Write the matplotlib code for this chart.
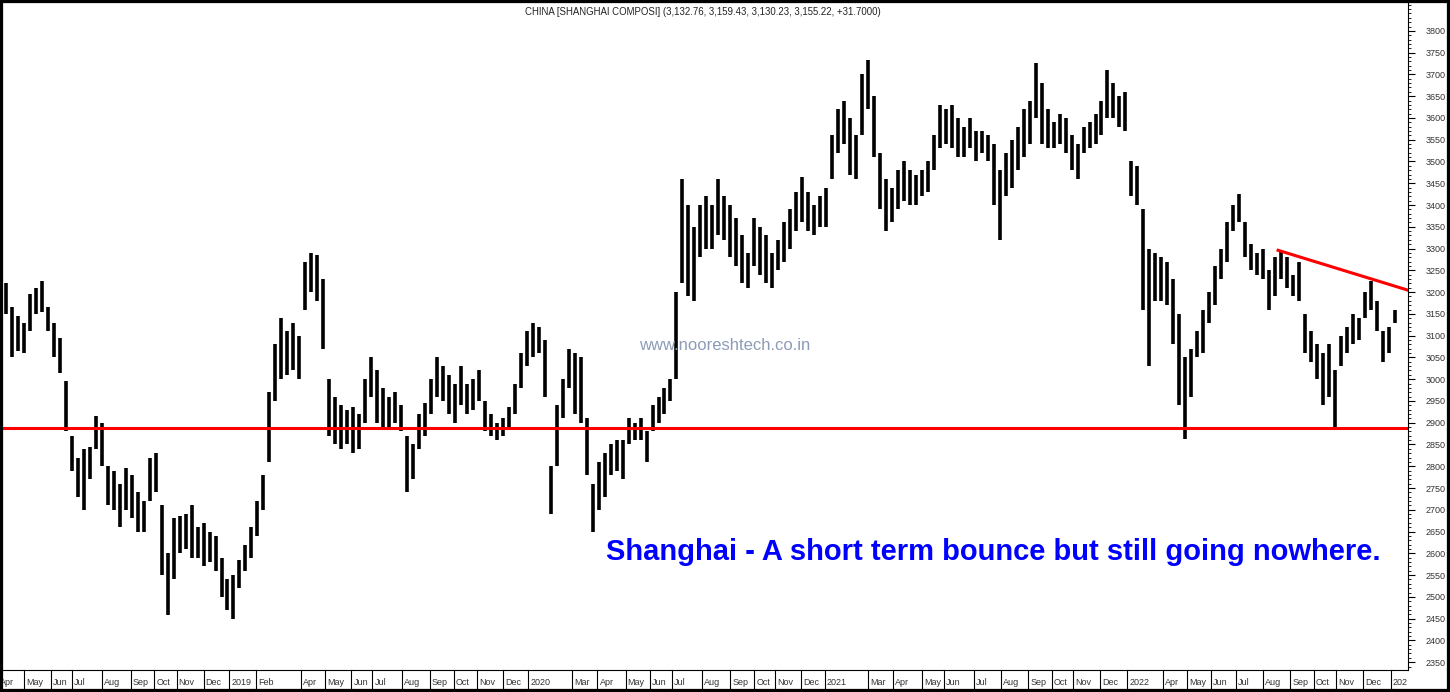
import matplotlib.pyplot as plt
from matplotlib.patches import Rectangle
import numpy as np

plt.rcParams['font.family'] = ['Liberation Sans', 'DejaVu Sans']

# weekly high / low of the Shanghai Composite, Apr 2018 - Jan 2023
high = [3220, 3165, 3145, 3130, 3195, 3210, 3225, 3165, 3130, 3095,
        2995, 2870, 2820, 2840, 2845, 2915, 2900, 2800, 2790, 2760,
        2795, 2780, 2740, 2720, 2820, 2830, 2710, 2600, 2680, 2685,
        2690, 2710, 2660, 2670, 2650, 2640, 2590, 2540, 2550, 2585,
        2620, 2660, 2720, 2780, 2970, 3080, 3140, 3110, 3130, 3100,
        3270, 3290, 3285, 3230, 3000, 2960, 2940, 2930, 2935, 2920,
        3000, 3050, 3020, 2980, 2960, 2970, 2940, 2870, 2850, 2920,
        2945, 3000, 3050, 3030, 3010, 2990, 3030, 2990, 3000, 3020,
        2950, 2920, 2900, 2910, 2935, 2990, 3060, 3110, 3130, 3120,
        3090, 2800, 2940, 3000, 3070, 3060, 3050, 2910, 2760, 2810,
        2830, 2850, 2860, 2860, 2910, 2900, 2910, 2880, 2940, 2960,
        2980, 3000, 3200, 3460, 3400, 3350, 3400, 3420, 3400, 3460,
        3420, 3400, 3370, 3330, 3290, 3370, 3350, 3330, 3290, 3320,
        3360, 3390, 3430, 3465, 3430, 3400, 3420, 3440, 3560, 3620,
        3640, 3600, 3560, 3700, 3733, 3650, 3520, 3460, 3440, 3480,
        3500, 3480, 3470, 3480, 3500, 3560, 3630, 3620, 3630, 3600,
        3580, 3600, 3570, 3570, 3560, 3540, 3480, 3520, 3550, 3580,
        3620, 3640, 3726, 3680, 3620, 3590, 3610, 3600, 3560, 3540,
        3580, 3590, 3610, 3640, 3710, 3680, 3650, 3660, 3500, 3490,
        3390, 3300, 3290, 3280, 3270, 3230, 3150, 3050, 3070, 3110,
        3160, 3200, 3260, 3300, 3360, 3400, 3425, 3360, 3310, 3290,
        3300, 3250, 3280, 3295, 3280, 3240, 3270, 3150, 3110, 3080,
        3060, 3080, 3020, 3100, 3120, 3150, 3140, 3200, 3226, 3180,
        3110, 3120, 3159]
low = [3150, 3050, 3065, 3060, 3110, 3150, 3155, 3110, 3050, 3015,
       2880, 2790, 2730, 2700, 2770, 2840, 2800, 2710, 2700, 2660,
       2700, 2680, 2650, 2650, 2720, 2740, 2550, 2458, 2540, 2600,
       2610, 2590, 2590, 2570, 2580, 2560, 2500, 2470, 2450, 2520,
       2560, 2590, 2640, 2700, 2810, 2950, 3000, 3010, 3020, 3000,
       3160, 3200, 3180, 3070, 2870, 2850, 2840, 2850, 2830, 2840,
       2900, 2960, 2900, 2890, 2890, 2900, 2880, 2740, 2770, 2840,
       2870, 2920, 2960, 2950, 2920, 2900, 2940, 2920, 2930, 2950,
       2880, 2870, 2860, 2870, 2890, 2920, 2980, 3030, 3050, 3060,
       2960, 2690, 2800, 2910, 2980, 2920, 2900, 2780, 2650, 2700,
       2730, 2780, 2790, 2770, 2850, 2860, 2860, 2810, 2880, 2900,
       2920, 2950, 3000, 3220, 3190, 3180, 3280, 3300, 3300, 3330,
       3320, 3280, 3260, 3220, 3210, 3260, 3240, 3220, 3210, 3250,
       3270, 3300, 3340, 3360, 3340, 3330, 3350, 3350, 3460, 3520,
       3540, 3470, 3460, 3560, 3620, 3510, 3390, 3340, 3360, 3390,
       3410, 3400, 3400, 3420, 3430, 3480, 3530, 3540, 3530, 3510,
       3510, 3530, 3500, 3520, 3500, 3400, 3320, 3420, 3440, 3480,
       3510, 3540, 3600, 3540, 3530, 3530, 3540, 3520, 3480, 3460,
       3520, 3530, 3540, 3560, 3600, 3600, 3580, 3570, 3420, 3400,
       3160, 3030, 3180, 3180, 3170, 3080, 2940, 2863, 2960, 3050,
       3060, 3130, 3170, 3230, 3270, 3340, 3360, 3280, 3250, 3240,
       3230, 3160, 3190, 3230, 3210, 3190, 3180, 3060, 3040, 3000,
       2940, 2960, 2886, 3030, 3060, 3080, 3090, 3140, 3160, 3110,
       3040, 3060, 3130]

month_labels = ['Apr', 'May', 'Jun', 'Jul', 'Aug', 'Sep', 'Oct', 'Nov', 'Dec', '2019', 'Feb',
                'Apr', 'May', 'Jun', 'Jul', 'Aug', 'Sep', 'Oct', 'Nov', 'Dec', '2020',
                'Mar', 'Apr', 'May', 'Jun', 'Jul', 'Aug', 'Sep', 'Oct', 'Nov', 'Dec', '2021',
                'Mar', 'Apr', 'May', 'Jun', 'Jul', 'Aug', 'Sep', 'Oct', 'Nov', 'Dec', '2022',
                'Apr', 'May', 'Jun', 'Jul', 'Aug', 'Sep', 'Oct', 'Nov', 'Dec', '202']
month_week = [-1.3, 3.0, 7.5, 11.0, 16.0, 20.8, 24.8, 28.5, 33.0, 37.3, 41.8,
              49.2, 53.3, 57.7, 61.2, 66.2, 70.8, 74.8, 78.7, 83.0, 87.2,
              94.5, 98.8, 103.5, 107.5, 111.2, 116.2, 121.0, 125.0, 128.5, 132.8, 136.8,
              144.0, 148.2, 153.0, 156.7, 161.7, 166.2, 170.8, 174.7, 178.2, 182.7, 187.3,
              193.2, 197.3, 201.3, 205.5, 210.0, 214.5, 218.5, 222.2, 226.7, 231.3]

support = 2887
trend_weeks = [212.5, 235.0]
trend_levels = [3296, 3201]

fig = plt.figure(figsize=(14.5, 6.92), dpi=100)
ax = fig.add_axes([3 / 1450, 22 / 692, 1405 / 1450, 667 / 692])

weeks = np.arange(len(high))
ax.vlines(weeks, low, high, color='black', lw=2.6)

ax.axhline(support, color='#ff0000', lw=2.2)
ax.plot(trend_weeks, trend_levels, color='#ff0000', lw=2.2)

ax.set_xlim(-0.5, 234.2)
ax.set_ylim(2332, 3864)

# right price scale
ax.yaxis.tick_right()
ax.set_yticks(np.arange(2350, 3801, 50))
ax.set_yticks(np.arange(2340, 3861, 10), minor=True)
ax.tick_params(axis='y', which='major', length=5, width=0.8, labelsize=6.5,
               labelcolor='#333333', pad=8)
ax.tick_params(axis='y', which='minor', length=2.5, width=0.6)
ax.set_xticks([])
for s in ['top', 'left']:
    ax.spines[s].set_visible(False)
ax.spines['right'].set_linewidth(0.8)
ax.spines['bottom'].set_linewidth(0.8)

# month scale under the chart
tr = ax.get_xaxis_transform()
for w, lab in zip(month_week, month_labels):
    ax.plot([w, w], [0, -0.027], transform=tr, color='black', lw=0.8, clip_on=False)
    ax.text(w + 0.35, -0.018, lab, transform=tr, fontsize=6.5, color='#333333',
            ha='left', va='center', clip_on=False)

fig.text(703 / 1450, 1 - 12 / 692,
         'CHINA [SHANGHAI COMPOSI] (3,132.76, 3,159.43, 3,130.23, 3,155.22, +31.7000)',
         fontsize=6.9, color='#222222', ha='center', va='center')
fig.text(725 / 1450, 1 - 346 / 692, 'www.nooreshtech.co.in', fontsize=12,
         color='#8c9cb8', ha='center', va='center')
fig.text(993 / 1450, 1 - 552 / 692,
         'Shanghai - A short term bounce but still going nowhere.',
         fontsize=21, fontweight='bold', color='#0000ff', ha='center', va='center')

fig.patches.append(Rectangle((0, 0), 1, 1, transform=fig.transFigure, fill=False,
                             ec='black', lw=4.5))

fig.savefig('out.png', dpi=100, facecolor='white')
